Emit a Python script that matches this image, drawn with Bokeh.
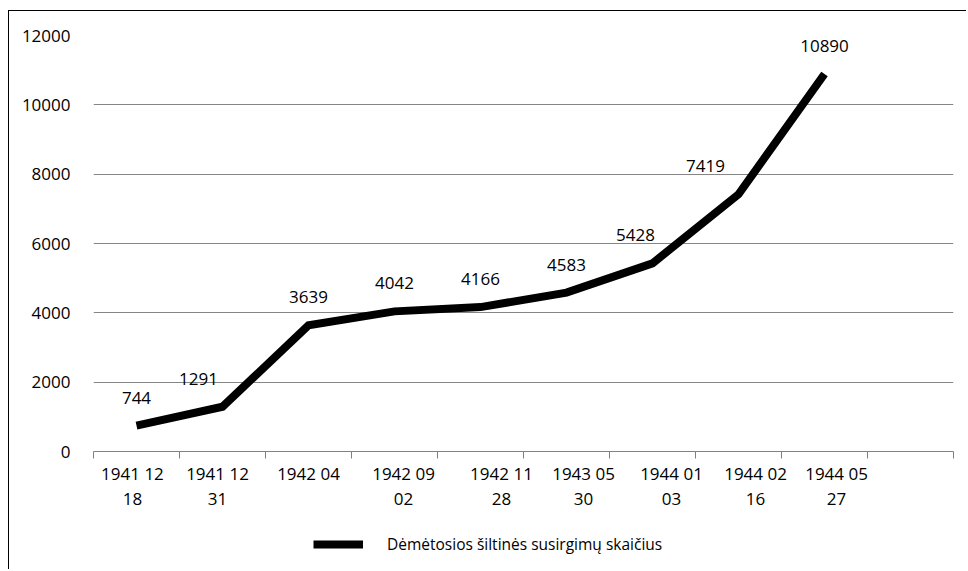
from bokeh.plotting import figure
from bokeh.models import ColumnDataSource, FixedTicker, Legend, LegendItem, Range1d
from bokeh.layouts import column
from bokeh.core.properties import value
from bokeh.embed import file_html
from bokeh.resources import INLINE

# ---- data ----
dates = ["1941 12\n18", "1941 12\n31", "1942 04", "1942 09\n02", "1942 11\n28",
         "1943 05\n30", "1944 01\n03", "1944 02\n16", "1944 05\n27"]
cases = [744, 1291, 3639, 4042, 4166, 4583, 5428, 7419, 10890]
y_ticks = [0, 2000, 4000, 6000, 8000, 10000, 12000]
series_name = "Dėmėtosios šiltinės susirgimų skaičius"

# style-only nudges
label_dx = [0, -24, 0, 0, 0, 0, -17, -33, 0]          # data-label x offsets (px)
tick_label_shift = [-4, -5, 0, 9, 21, 17, 19, 17, 12]  # category-label x offsets (px)

FONT = "Open Sans"
idx = list(range(len(dates)))
n_slots = len(dates) + 1  # one empty category slot at the end
SLOT_PX = 86.0            # width of one category slot (frame 860 px / 10)

p = figure(width=966, height=512, output_backend="svg", toolbar_location=None, tools="",
           x_range=Range1d(-0.5, n_slots - 0.5), y_range=Range1d(0, 12000),
           min_border_left=93, min_border_right=13, min_border_top=35, min_border_bottom=60)
p.outline_line_color = None
p.border_fill_alpha = 0
p.background_fill_color = "white"

# axes
label_pos = [round(i + s / SLOT_PX, 3) for i, s in zip(idx, tick_label_shift)]
p.xaxis.ticker = FixedTicker(ticks=label_pos, minor_ticks=[i - 0.5 for i in range(n_slots + 1)])
p.xaxis.major_label_overrides = {pos: d for pos, d in zip(label_pos, dates)}
p.xaxis.major_tick_line_color = None
p.xaxis.major_tick_out = 0
p.xaxis.major_tick_in = 0
p.xaxis.minor_tick_out = 7
p.xaxis.minor_tick_in = 0
p.xaxis.minor_tick_line_color = "#808080"
p.xaxis.axis_line_color = "#808080"
p.xaxis.major_label_text_font = FONT
p.xaxis.major_label_text_font_size = "17px"
p.xaxis.major_label_text_color = "black"
p.xaxis.major_label_text_line_height = 1.09
p.xaxis.major_label_standoff = 3

p.yaxis.ticker = FixedTicker(ticks=y_ticks)
p.yaxis.axis_line_color = None
p.yaxis.major_tick_line_color = None
p.yaxis.minor_tick_line_color = None
p.yaxis.major_label_text_font = FONT
p.yaxis.major_label_text_font_size = "17px"
p.yaxis.major_label_text_color = "black"
p.yaxis.major_label_standoff = 17

p.xgrid.grid_line_color = None
p.ygrid.ticker = FixedTicker(ticks=y_ticks)
p.ygrid.grid_line_color = "#868686"
p.ygrid.grid_line_width = 1

src = ColumnDataSource(dict(x=idx, y=cases, text=[str(c) for c in cases], dx=label_dx))
r = p.line("x", "y", source=src, line_width=8, line_color="black", line_join="miter", line_cap="butt")
p.text(x="x", y="y", text="text", x_offset="dx", y_offset=-28, source=src,
       text_align="center", text_baseline="middle", text_font=value(FONT),
       text_font_size="17px", text_color="black")

# ---- legend strip below the chart (same series, its own out-of-view ranges) ----
lg = figure(width=966, height=57, output_backend="svg", toolbar_location=None, tools="",
            x_range=Range1d(0, 1), y_range=Range1d(0, 1),
            min_border_left=0, min_border_right=0, min_border_top=0, min_border_bottom=0,
            x_axis_type=None, y_axis_type=None)
lg.outline_line_color = None
lg.border_fill_alpha = 0
lg.background_fill_alpha = 0
lg.grid.grid_line_color = None
lr = lg.line("x", "y", source=src, line_width=8, line_color="black", line_cap="butt")
legend = Legend(items=[LegendItem(label=series_name, renderers=[lr])],
                location=(220, 14), glyph_width=50, glyph_height=20, label_standoff=24,
                padding=0, margin=0, spacing=0, border_line_color=None,
                background_fill_alpha=0, label_text_font=FONT, label_text_font_size="15.5px",
                label_text_color="black")
lg.add_layout(legend, "center")

layout = column(p, lg, spacing=0, styles={
    "background": "linear-gradient(#000,#000) 8px 10px / 1px calc(100% - 10px) no-repeat, "
                  "linear-gradient(#000,#000) 8px 10px / calc(100% - 8px) 1px no-repeat"})

open("out.html", "w").write(file_html(layout, INLINE))
